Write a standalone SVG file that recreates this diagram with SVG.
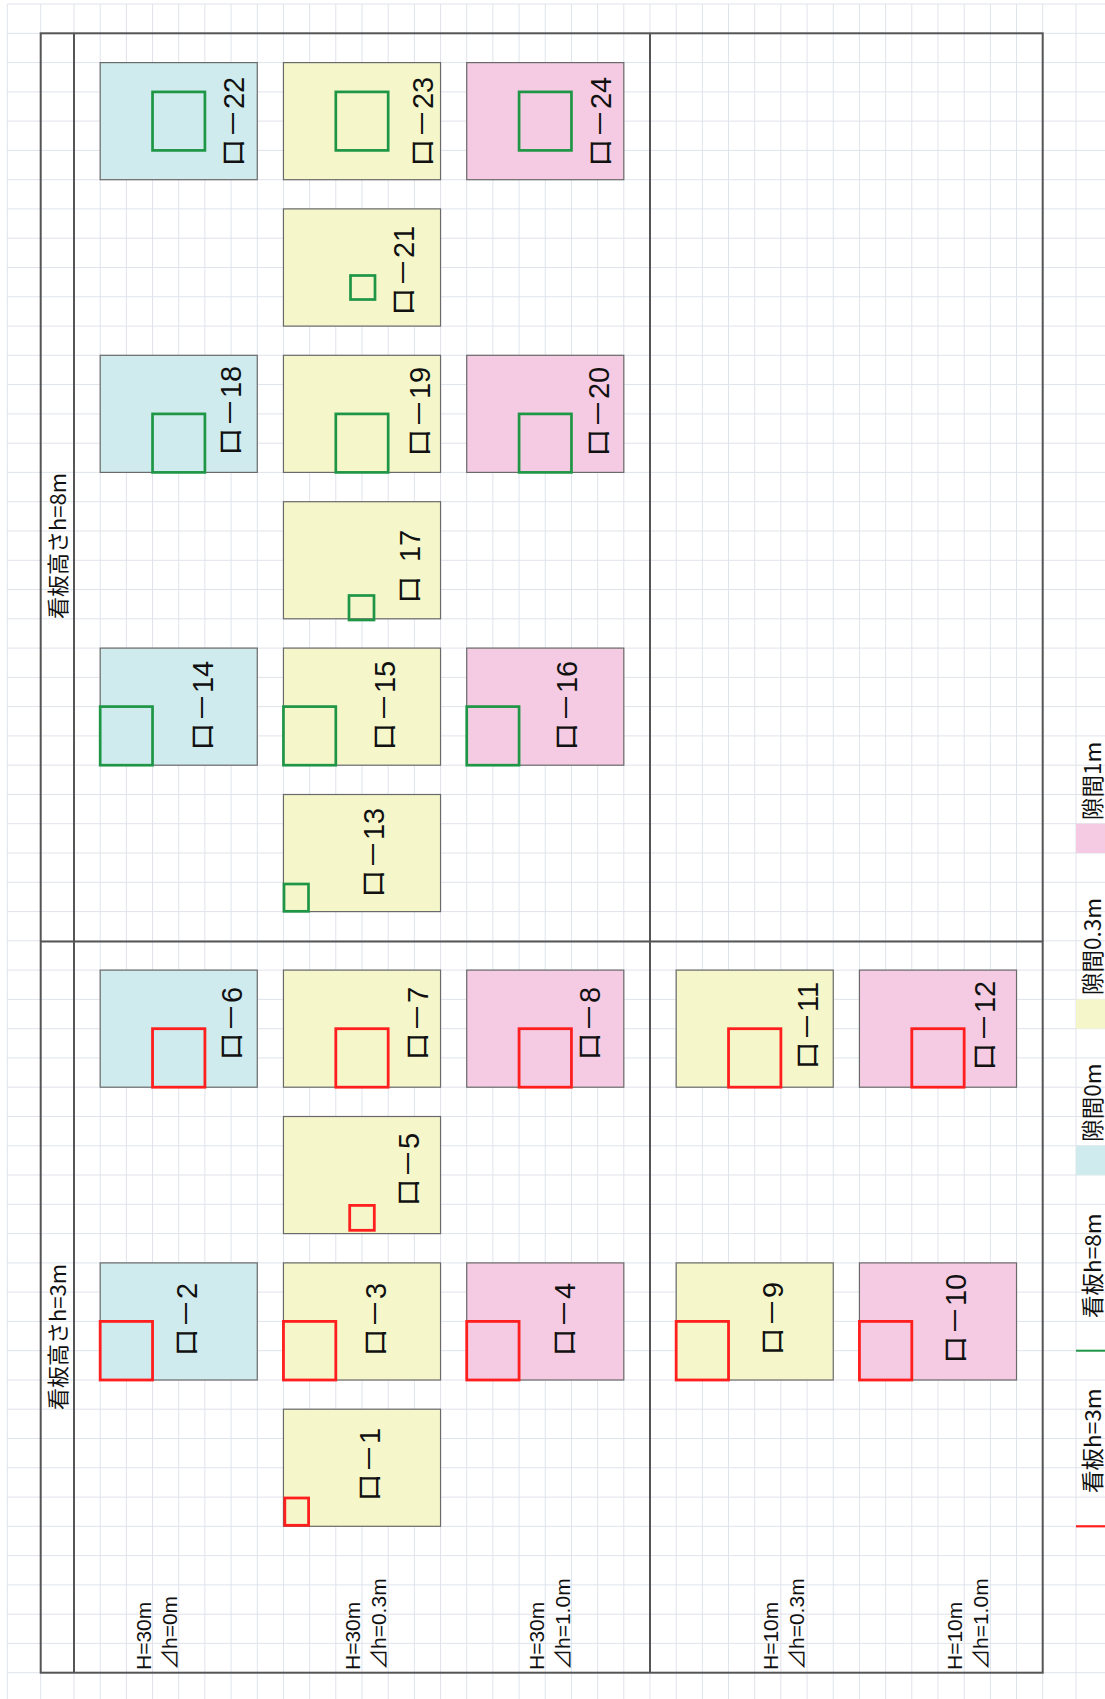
<svg xmlns="http://www.w3.org/2000/svg" width="1105" height="1699" viewBox="0 0 1105 1699">
<style>
.grid{fill:none;stroke:#dfe3eb;stroke-width:1}
.frame{fill:none;stroke:#555;stroke-width:2}
.box{stroke:#6a6a6a;stroke-width:1.2}
.cy{fill:#cfebee}
.ye{fill:#f5f7cb}
.pk{fill:#f5cbe3}
.g{fill:none;stroke:#1e9646;stroke-width:2.7}
.r{fill:none;stroke:#ff1f1f;stroke-width:2.8}
.lbl{font-family:"Liberation Sans","Noto Sans CJK JP",sans-serif;font-size:29px;fill:#111;text-anchor:middle}
.hl{font-family:"Liberation Sans","Noto Sans CJK JP",sans-serif;font-size:21px;fill:#111}
.sec{font-family:"Noto Sans CJK JP",sans-serif;font-size:22px;fill:#111;text-anchor:middle}
.leg{font-family:"Noto Sans CJK JP",sans-serif;font-size:22.5px;fill:#111}
</style>
<rect x="0" y="0" width="1105" height="1699" fill="#fff"/>
<g id="grid">
<path class="grid" d="M7.3 4V1699M40.7 4V1699M74 4V1699M100.18 4V1699M126.36 4V1699M152.54 4V1699M178.72 4V1699M204.91 4V1699M231.09 4V1699M257.27 4V1699M283.45 4V1699M309.63 4V1699M335.81 4V1699M361.99 4V1699M388.17 4V1699M414.35 4V1699M440.54 4V1699M466.72 4V1699M492.9 4V1699M519.08 4V1699M545.26 4V1699M571.44 4V1699M597.62 4V1699M623.8 4V1699M649.98 4V1699M676.17 4V1699M702.35 4V1699M728.53 4V1699M754.71 4V1699M780.89 4V1699M807.07 4V1699M833.25 4V1699M859.43 4V1699M885.61 4V1699M911.8 4V1699M937.98 4V1699M964.16 4V1699M990.34 4V1699M1016.52 4V1699M1042.7 4V1699M1076 4V1699"/>
<path class="grid" d="M7.3 4H1105M7.3 33.3H1105M7.3 62.6H1105M7.3 91.9H1105M7.3 121.1H1105M7.3 150.4H1105M7.3 179.7H1105M7.3 208.9H1105M7.3 238.2H1105M7.3 267.5H1105M7.3 296.8H1105M7.3 326.1H1105M7.3 355.3H1105M7.3 384.6H1105M7.3 413.9H1105M7.3 443.2H1105M7.3 472.4H1105M7.3 501.7H1105M7.3 531H1105M7.3 560.3H1105M7.3 589.5H1105M7.3 618.8H1105M7.3 648.1H1105M7.3 677.4H1105M7.3 706.6H1105M7.3 735.9H1105M7.3 765.2H1105M7.3 794.5H1105M7.3 823.7H1105M7.3 853H1105M7.3 882.3H1105M7.3 911.6H1105M7.3 940.8H1105M7.3 970.1H1105M7.3 999.4H1105M7.3 1028.7H1105M7.3 1057.9H1105M7.3 1087.2H1105M7.3 1116.5H1105M7.3 1145.8H1105M7.3 1175H1105M7.3 1204.3H1105M7.3 1233.6H1105M7.3 1262.9H1105M7.3 1292.1H1105M7.3 1321.4H1105M7.3 1350.7H1105M7.3 1380H1105M7.3 1409.2H1105M7.3 1438.5H1105M7.3 1467.8H1105M7.3 1497.1H1105M7.3 1526.3H1105M7.3 1555.6H1105M7.3 1584.9H1105M7.3 1614.2H1105M7.3 1643.4H1105M7.3 1672.7H1105"/>
</g>
<g id="frame">
<rect class="frame" x="40.7" y="33.3" width="1002" height="1639.4"/>
<path class="frame" d="M74 33.3V1672.7M650 33.3V1672.7M40.7 941.5H1042.7"/>
<text class="sec" transform="translate(65.5,546) rotate(-90)">看板高さh=8m</text>
<text class="sec" transform="translate(65.5,1337) rotate(-90)">看板高さh=3m</text>
</g>
<g id="row-labels">
<text class="hl" transform="translate(151,1670) rotate(-90)">H=30m</text>
<text class="hl" transform="translate(177,1670) rotate(-90)">⊿h=0m</text>
<text class="hl" transform="translate(359.5,1670) rotate(-90)">H=30m</text>
<text class="hl" transform="translate(385.5,1670) rotate(-90)">⊿h=0.3m</text>
<text class="hl" transform="translate(544,1670) rotate(-90)">H=30m</text>
<text class="hl" transform="translate(570,1670) rotate(-90)">⊿h=1.0m</text>
<text class="hl" transform="translate(778,1670) rotate(-90)">H=10m</text>
<text class="hl" transform="translate(804,1670) rotate(-90)">⊿h=0.3m</text>
<text class="hl" transform="translate(962,1670) rotate(-90)">H=10m</text>
<text class="hl" transform="translate(988,1670) rotate(-90)">⊿h=1.0m</text>
</g>
<g id="case-22"><rect class="box cy" x="100.18" y="62.6" width="157.09" height="117.1"/><text class="lbl" transform="translate(244,122) rotate(-90)">ロ－22</text><rect class="g" x="152.54" y="91.9" width="52.37" height="58.5"/></g>
<g id="case-23"><rect class="box ye" x="283.45" y="62.6" width="157.09" height="117.1"/><text class="lbl" transform="translate(433,122) rotate(-90)">ロ－23</text><rect class="g" x="335.81" y="91.9" width="52.36" height="58.5"/></g>
<g id="case-24"><rect class="box pk" x="466.72" y="62.6" width="157.08" height="117.1"/><text class="lbl" transform="translate(611,122) rotate(-90)">ロ－24</text><rect class="g" x="519.08" y="91.9" width="52.36" height="58.5"/></g>
<g id="case-21"><rect class="box ye" x="283.45" y="208.9" width="157.09" height="117.2"/><text class="lbl" transform="translate(414,271) rotate(-90)">ロ－21</text><rect class="g" x="350.5" y="275.5" width="24.5" height="24"/></g>
<g id="case-18"><rect class="box cy" x="100.18" y="355.3" width="157.09" height="117.1"/><text class="lbl" transform="translate(241,411) rotate(-90)">ロ－18</text><rect class="g" x="152.54" y="413.9" width="52.37" height="58.5"/></g>
<g id="case-19"><rect class="box ye" x="283.45" y="355.3" width="157.09" height="117.1"/><text class="lbl" transform="translate(430,412) rotate(-90)">ロ－19</text><rect class="g" x="335.81" y="413.9" width="52.36" height="58.5"/></g>
<g id="case-20"><rect class="box pk" x="466.72" y="355.3" width="157.08" height="117.1"/><text class="lbl" transform="translate(609,412) rotate(-90)">ロ－20</text><rect class="g" x="519.08" y="413.9" width="52.36" height="58.5"/></g>
<g id="case-17"><rect class="box ye" x="283.45" y="501.7" width="157.09" height="117.1"/><text class="lbl" transform="translate(420,567) rotate(-90)">ロ<tspan dx="5"> 17</tspan></text><rect class="g" x="349" y="595.5" width="25" height="24.5"/></g>
<g id="case-14"><rect class="box cy" x="100.18" y="648.1" width="157.09" height="117.1"/><text class="lbl" transform="translate(213,706) rotate(-90)">ロ－14</text><rect class="g" x="100.18" y="706.6" width="52.36" height="58.6"/></g>
<g id="case-15"><rect class="box ye" x="283.45" y="648.1" width="157.09" height="117.1"/><text class="lbl" transform="translate(395,706) rotate(-90)">ロ－15</text><rect class="g" x="283.45" y="706.6" width="52.36" height="58.6"/></g>
<g id="case-16"><rect class="box pk" x="466.72" y="648.1" width="157.08" height="117.1"/><text class="lbl" transform="translate(577,706) rotate(-90)">ロ－16</text><rect class="g" x="466.72" y="706.6" width="52.36" height="58.6"/></g>
<g id="case-13"><rect class="box ye" x="283.45" y="794.5" width="157.09" height="117.1"/><text class="lbl" transform="translate(384,853) rotate(-90)">ロ－13</text><rect class="g" x="284" y="884" width="24.5" height="27.3"/></g>
<g id="case-6"><rect class="box cy" x="100.18" y="970.1" width="157.09" height="117.1"/><text class="lbl" transform="translate(242,1024) rotate(-90)">ロ－6</text><rect class="r" x="152.54" y="1028.7" width="52.37" height="58.5"/></g>
<g id="case-7"><rect class="box ye" x="283.45" y="970.1" width="157.09" height="117.1"/><text class="lbl" transform="translate(428,1024) rotate(-90)">ロ－7</text><rect class="r" x="335.81" y="1028.7" width="52.36" height="58.5"/></g>
<g id="case-8"><rect class="box pk" x="466.72" y="970.1" width="157.08" height="117.1"/><text class="lbl" transform="translate(600,1024) rotate(-90)">ロ－8</text><rect class="r" x="519.08" y="1028.7" width="52.36" height="58.5"/></g>
<g id="case-11"><rect class="box ye" x="676.17" y="970.1" width="157.08" height="117.1"/><text class="lbl" transform="translate(818,1026) rotate(-90)">ロ－11</text><rect class="r" x="728.53" y="1028.7" width="52.36" height="58.5"/></g>
<g id="case-12"><rect class="box pk" x="859.43" y="970.1" width="157.09" height="117.1"/><text class="lbl" transform="translate(995,1026) rotate(-90)">ロ－12</text><rect class="r" x="911.8" y="1028.7" width="52.36" height="58.5"/></g>
<g id="case-5"><rect class="box ye" x="283.45" y="1116.5" width="157.09" height="117.1"/><text class="lbl" transform="translate(419,1170) rotate(-90)">ロ－5</text><rect class="r" x="349.7" y="1205.4" width="24.6" height="24.9"/></g>
<g id="case-2"><rect class="box cy" x="100.18" y="1262.9" width="157.09" height="117.1"/><text class="lbl" transform="translate(197,1320) rotate(-90)">ロ－2</text><rect class="r" x="100.18" y="1321.4" width="52.36" height="58.6"/></g>
<g id="case-3"><rect class="box ye" x="283.45" y="1262.9" width="157.09" height="117.1"/><text class="lbl" transform="translate(386,1320) rotate(-90)">ロ－3</text><rect class="r" x="283.45" y="1321.4" width="52.36" height="58.6"/></g>
<g id="case-4"><rect class="box pk" x="466.72" y="1262.9" width="157.08" height="117.1"/><text class="lbl" transform="translate(575,1320) rotate(-90)">ロ－4</text><rect class="r" x="466.72" y="1321.4" width="52.36" height="58.6"/></g>
<g id="case-9"><rect class="box ye" x="676.17" y="1262.9" width="157.08" height="117.1"/><text class="lbl" transform="translate(783,1319) rotate(-90)">ロ－9</text><rect class="r" x="676.17" y="1321.4" width="52.36" height="58.6"/></g>
<g id="case-10"><rect class="box pk" x="859.43" y="1262.9" width="157.09" height="117.1"/><text class="lbl" transform="translate(966,1319) rotate(-90)">ロ－10</text><rect class="r" x="859.43" y="1321.4" width="52.37" height="58.6"/></g>
<g id="case-1"><rect class="box ye" x="283.45" y="1409.2" width="157.09" height="117.1"/><text class="lbl" transform="translate(380,1465) rotate(-90)">ロ－1</text><rect class="r" x="284.8" y="1498" width="23.8" height="27.3"/></g>
<g id="connectors"></g>
<g id="legend">
<rect class="pk" x="1076" y="823.7" width="29" height="29.3"/>
<text class="leg" transform="translate(1100.5,820) rotate(-90)">隙間1m</text>
<rect class="ye" x="1076" y="999.4" width="29" height="29.3"/>
<text class="leg" transform="translate(1100.5,995) rotate(-90)">隙間0.3m</text>
<rect class="cy" x="1076" y="1145.8" width="29" height="29.2"/>
<text class="leg" transform="translate(1100.5,1141.7) rotate(-90)">隙間0m</text>
<path d="M1076 1350.7H1105" stroke="#1e9646" stroke-width="2"/>
<text class="leg" transform="translate(1100.5,1318) rotate(-90)">看板h=8m</text>
<path d="M1076 1526.3H1105" stroke="#ff1f1f" stroke-width="2.2"/>
<text class="leg" transform="translate(1100.5,1493) rotate(-90)">看板h=3m</text>
</g>
</svg>
